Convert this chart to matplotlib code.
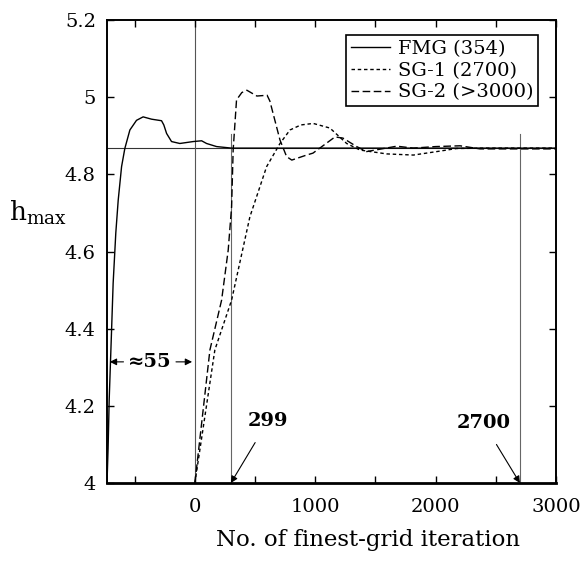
import matplotlib
matplotlib.use("Agg")
import matplotlib.pyplot as plt
from matplotlib.ticker import MultipleLocator, FuncFormatter

plt.rcParams["font.family"] = ["DejaVu Serif"]
plt.rcParams["mathtext.fontset"] = "dejavuserif"

# FMG (354)
fmg_x = [-730, -721, -712, -693, -679, -657, -637, -609, -582, -540, -485, -430,
         -360, -277, -258, -235, -194, -125, -14, 56, 97, 180, 305, 3000]
fmg_y = [4.00, 4.09, 4.215, 4.388, 4.518, 4.648, 4.733, 4.82, 4.867, 4.915, 4.94, 4.949,
         4.943, 4.939, 4.928, 4.906, 4.885, 4.880, 4.885, 4.887, 4.880, 4.872, 4.868, 4.868]

# SG-1 (2700)
sg1_x = [0, 166, 305, 457, 596, 707, 790, 880, 983, 1122, 1261, 1372, 1593, 1815,
         2009, 2175, 2400, 3000]
sg1_y = [4.0, 4.345, 4.474, 4.69, 4.82, 4.88, 4.915, 4.928, 4.932, 4.92, 4.88, 4.863,
         4.853, 4.85, 4.859, 4.867, 4.868, 4.868]

# SG-2 (>3000)
sg2_x = [0, 125, 222, 277, 305, 318, 346, 390, 432, 515, 600, 623, 707, 762, 805,
         928, 981, 1164, 1230, 1344, 1427, 1677, 1815, 2000, 2203, 2369, 3000]
sg2_y = [4.0, 4.345, 4.474, 4.604, 4.716, 4.863, 4.993, 5.012, 5.018, 5.003, 5.005,
         4.99, 4.889, 4.846, 4.837, 4.85, 4.855, 4.897, 4.894, 4.872, 4.859, 4.873,
         4.868, 4.872, 4.874, 4.866, 4.866]

h_ref = 4.868
marks = [299, 2700]

fig = plt.figure(figsize=(5.8, 5.64), dpi=100)
ax = fig.add_axes([0.1845, 0.1436, 0.7741, 0.8209])

ax.axhline(h_ref, color="#333333", lw=0.8, zorder=1)
ax.axvline(0, color="#555555", lw=0.8, zorder=1)
for m in marks:
    ax.plot([m, m], [4.0, 4.905], color="#666666", lw=0.8, zorder=1)

ax.plot(fmg_x, fmg_y, color="black", lw=1.0, label="FMG (354)")
ax.plot(sg1_x, sg1_y, color="black", lw=1.0, dashes=(2.5, 2.0), label="SG-1 (2700)")
ax.plot(sg2_x, sg2_y, color="black", lw=1.0, dashes=(5.5, 2.5), label="SG-2 (>3000)")

ax.set_xlim(-730, 3000)
ax.set_ylim(4.0, 5.2)
ax.xaxis.set_major_locator(MultipleLocator(500))
ax.xaxis.set_major_formatter(FuncFormatter(lambda v, p: f"{int(v)}" if v % 1000 == 0 else ""))
ax.yaxis.set_major_locator(MultipleLocator(0.2))
ax.yaxis.set_major_formatter(FuncFormatter(lambda v, p: f"{v:g}"))
ax.tick_params(direction="in", length=5, width=1, top=True, right=True, labelsize=14)
ax.tick_params(axis="y", pad=8)
ax.tick_params(axis="x", pad=11)
for s in ax.spines.values():
    s.set_linewidth(1.4)
ax.spines["bottom"].set_linewidth(2)

fig.text(0.634, 0.043, "No. of finest-grid iteration", ha="center", va="center", fontsize=16.5)
fig.text(0.065, 1 - 213 / 564, r"$\mathrm{h}_{\mathrm{max}}$", ha="center", va="center", fontsize=19)

# "≈55" span with arrows
ax.annotate("", xy=(-730, 4.314), xytext=(-570, 4.314),
            arrowprops=dict(arrowstyle="-|>", color="black", lw=0.8, mutation_scale=10))
ax.annotate("", xy=(0, 4.314), xytext=(-180, 4.314),
            arrowprops=dict(arrowstyle="-|>", color="black", lw=0.8, mutation_scale=10))
ax.text(-374, 4.314, "≈55", ha="center", va="center", fontsize=14, fontweight="bold")

ax.annotate("299", xy=(marks[0], 4.0), xytext=(607, 4.16), ha="center", va="center",
            fontsize=14, fontweight="bold",
            arrowprops=dict(arrowstyle="-|>", color="black", lw=0.8, mutation_scale=10,
                            shrinkA=8, shrinkB=0))
ax.annotate("2700", xy=(marks[1], 4.0), xytext=(2398, 4.155), ha="center", va="center",
            fontsize=14, fontweight="bold",
            arrowprops=dict(arrowstyle="-|>", color="black", lw=0.8, mutation_scale=10,
                            shrinkA=8, shrinkB=0))

leg = ax.legend(loc="upper right", bbox_to_anchor=(0.96, 0.968), fontsize=14,
                frameon=True, fancybox=False, edgecolor="black", framealpha=1,
                handlelength=2.0, handletextpad=0.4, borderpad=0.25, labelspacing=0.2,
                borderaxespad=0)
leg.get_frame().set_linewidth(1.2)

fig.savefig("out.png", dpi=100)
